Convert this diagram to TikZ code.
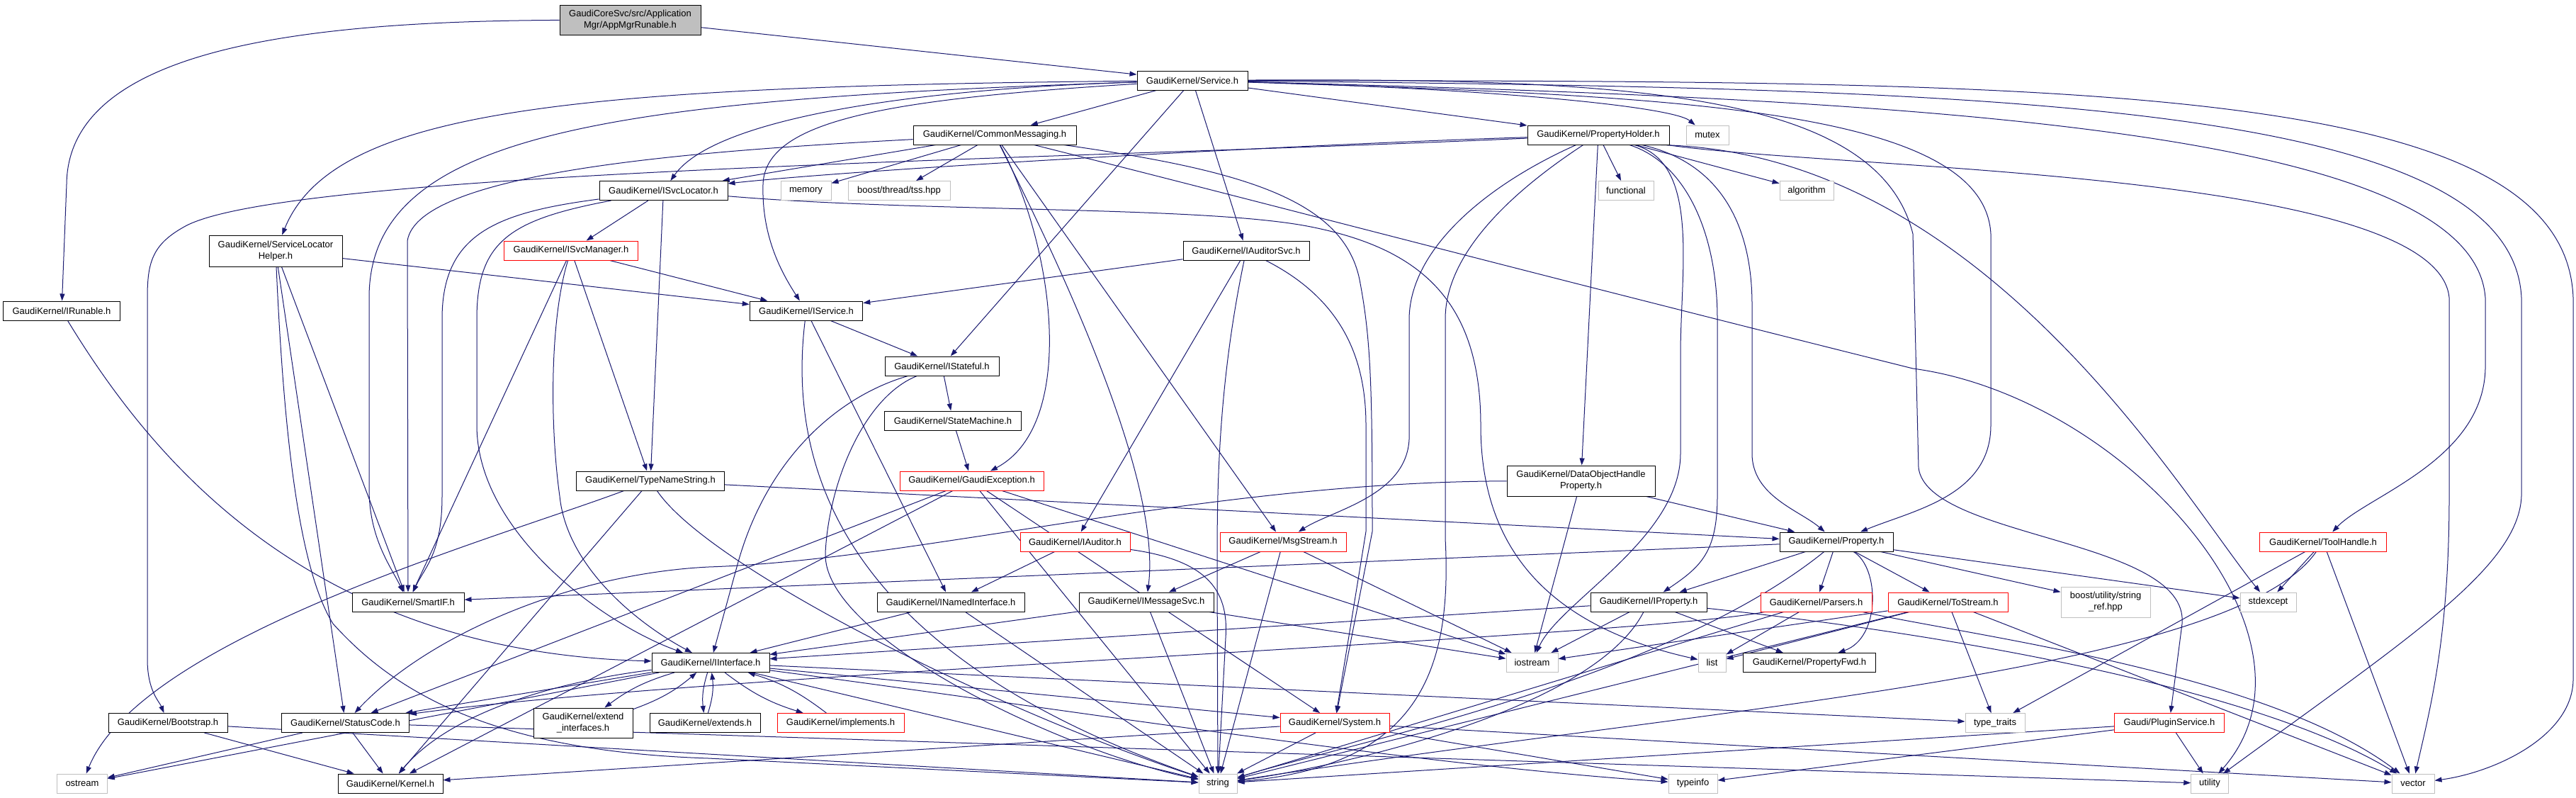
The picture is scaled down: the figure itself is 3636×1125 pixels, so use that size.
\documentclass[tikz,border=0pt]{standalone}
\usepackage{fontspec}
\setmainfont{Liberation Sans}
\usetikzlibrary{arrows.meta}
\definecolor{edgeblue}{HTML}{191970}
\definecolor{sysgray}{HTML}{BFBFBF}
\pgfdeclarelayer{edges}
\pgfsetlayers{edges,main}
\tikzset{
  hdr/.style={draw=black, fill=white, line width=1pt, inner sep=0pt, align=center,
    font=\fontsize{13}{16}\selectfont},
  trunc/.style={hdr, draw=red},
  sys/.style={hdr, draw=sysgray},
  bw/.style={minimum width=#1pt, minimum height=27pt},
  dep/.style={draw=edgeblue, line width=1pt, -{Triangle[length=10pt,width=7pt]}},
}
\begin{document}
\begin{tikzpicture}[x=1pt,y=-1pt]
    \useasboundingbox (0,0) rectangle (3636,1125);
    \node[hdr, fill=sysgray, bw=199, minimum height=42pt] (app) at (889.5,28) {GaudiCoreSvc/src/Application\\Mgr/AppMgrRunable.h};
    \node[hdr, bw=156] (svc) at (1683,113.5) {GaudiKernel/Service.h};
    \node[hdr, bw=164.5] (irun) at (87,438.5) {GaudiKernel/IRunable.h};
    \node[hdr, bw=230] (cmsg) at (1404,190.5) {GaudiKernel/CommonMessaging.h};
    \node[hdr, bw=200] (pholder) at (2256,190.5) {GaudiKernel/PropertyHolder.h};
    \node[sys, bw=60] (mutex) at (2410,190.5) {mutex};
    \node[hdr, bw=181] (isvcloc) at (936.5,269) {GaudiKernel/ISvcLocator.h};
    \node[sys, bw=71] (memory) at (1137.5,269) {memory};
    \node[sys, bw=144] (tss) at (1269,269) {boost/thread/tss.hpp};
    \node[sys, bw=78] (functional) at (2295,269) {functional};
    \node[sys, bw=76] (algorithm) at (2550,269) {algorithm};
    \node[hdr, bw=188, minimum height=44pt] (slh) at (389,354) {GaudiKernel/ServiceLocator\\Helper.h};
    \node[trunc, bw=188.5] (isvcmgr) at (806,353.5) {GaudiKernel/ISvcManager.h};
    \node[hdr, bw=178] (iaudsvc) at (1759,353.5) {GaudiKernel/IAuditorSvc.h};
    \node[hdr, bw=159.5] (iservice) at (1138,438.5) {GaudiKernel/IService.h};
    \node[hdr, bw=161] (istateful) at (1329.5,516.5) {GaudiKernel/IStateful.h};
    \node[hdr, bw=192.5] (statemachine) at (1345,593.5) {GaudiKernel/StateMachine.h};
    \node[hdr, bw=208.5] (tns) at (918,678.5) {GaudiKernel/TypeNameString.h};
    \node[trunc, bw=203] (gexc) at (1371.5,678.5) {GaudiKernel/GaudiException.h};
    \node[hdr, bw=209, minimum height=43pt] (dohp) at (2231.5,678.5) {GaudiKernel/DataObjectHandle\\Property.h};
    \node[trunc, bw=155] (iauditor) at (1517.5,764.5) {GaudiKernel/IAuditor.h};
    \node[trunc, bw=178] (msgstream) at (1811,764.5) {GaudiKernel/MsgStream.h};
    \node[hdr, bw=160] (property) at (2592,764.5) {GaudiKernel/Property.h};
    \node[trunc, bw=178.5] (toolhandle) at (3279,764.5) {GaudiKernel/ToolHandle.h};
    \node[hdr, bw=158] (smartif) at (576,849.5) {GaudiKernel/SmartIF.h};
    \node[hdr, bw=208] (inamed) at (1342,849.5) {GaudiKernel/INamedInterface.h};
    \node[hdr, bw=190] (imsgsvc) at (1618,849.5) {GaudiKernel/IMessageSvc.h};
    \node[hdr, bw=164] (iproperty) at (2327,849.5) {GaudiKernel/IProperty.h};
    \node[trunc, bw=157] (parsers) at (2563.5,849.5) {GaudiKernel/Parsers.h};
    \node[trunc, bw=169] (tostream) at (2749.5,849.5) {GaudiKernel/ToStream.h};
    \node[sys, bw=126, minimum height=43pt] (stringref) at (2972,849.5) {boost/utility/string\\\_ref.hpp};
    \node[sys, bw=79] (stdexcept) at (3201.5,849.5) {stdexcept};
    \node[hdr, bw=166] (iinterface) at (1003,935) {GaudiKernel/IInterface.h};
    \node[sys, bw=73] (iostream) at (2162.5,935) {iostream};
    \node[sys, bw=39] (list) at (2416.5,935) {list};
    \node[hdr, bw=186.5] (pfwd) at (2554,935) {GaudiKernel/PropertyFwd.h};
    \node[hdr, bw=168] (bootstrap) at (237,1020) {GaudiKernel/Bootstrap.h};
    \node[hdr, bw=180] (statuscode) at (487.5,1020) {GaudiKernel/StatusCode.h};
    \node[hdr, bw=140, minimum height=42pt] (extif) at (823,1020) {GaudiKernel/extend\\\_interfaces.h};
    \node[hdr, bw=156] (extends) at (995,1020) {GaudiKernel/extends.h};
    \node[trunc, bw=179] (implements) at (1186.5,1020) {GaudiKernel/implements.h};
    \node[trunc, bw=154] (system) at (1884,1020) {GaudiKernel/System.h};
    \node[sys, bw=84] (typetraits) at (2816,1020) {type\_traits};
    \node[trunc, bw=155.5] (plugin) at (3062,1020) {Gaudi/PluginService.h};
    \node[sys, bw=70.5] (ostream) at (116,1105.5) {ostream};
    \node[hdr, bw=148] (kernel) at (551,1105.5) {GaudiKernel/Kernel.h};
    \node[sys, bw=54] (string) at (1719,1105.5) {string};
    \node[sys, bw=69] (typeinfo) at (2389.5,1105.5) {typeinfo};
    \node[sys, bw=52.5] (utility) at (3119,1105.5) {utility};
    \node[sys, bw=60] (vector) at (3406,1105.5) {vector};
    \begin{pgfonlayer}{edges}
    \fill[white] (0,0) rectangle (3636,1125);
    \foreach \src/\dst in {app/svc, svc/cmsg, svc/pholder, svc/iaudsvc, svc/istateful,
        cmsg/isvcloc, cmsg/memory, cmsg/tss, cmsg/msgstream,
        pholder/functional, pholder/algorithm, pholder/dohp,
        isvcloc/isvcmgr, isvcloc/tns, slh/iservice, slh/statuscode, slh/smartif,
        isvcmgr/iservice, isvcmgr/tns, isvcmgr/smartif, iaudsvc/iservice, iaudsvc/iauditor,
        iservice/istateful, iservice/inamed, istateful/statemachine,
        statemachine/gexc, tns/property, tns/kernel,
        gexc/statuscode, gexc/kernel, gexc/system, gexc/iostream, gexc/string,
        dohp/property, dohp/iostream, iauditor/inamed,
        msgstream/imsgsvc, msgstream/string, msgstream/iostream,
        property/iproperty, property/parsers, property/tostream, property/stringref,
        property/stdexcept, property/smartif,
        toolhandle/stdexcept, toolhandle/typetraits, toolhandle/vector,
        inamed/iinterface, inamed/string, imsgsvc/iinterface, imsgsvc/string, imsgsvc/iostream,
        iproperty/iinterface, iproperty/pfwd, iproperty/iostream,
        parsers/list, parsers/string, tostream/iostream, tostream/list, tostream/typetraits,
        tostream/string, tostream/vector,
        iinterface/statuscode, iinterface/ostream, iinterface/system, iinterface/typetraits,
        iinterface/string, statuscode/ostream, statuscode/kernel, statuscode/utility,
        bootstrap/kernel, bootstrap/string, system/kernel, system/string, system/typeinfo,
        system/vector, plugin/string, plugin/typeinfo, plugin/utility}
        \draw[dep] (\src) -- (\dst);
    \draw[dep] (app) .. controls (420,30) and (96,70) .. (94,260) -- (irun);
    \draw[dep] (irun) .. controls (210,640) and (430,920) .. (iinterface);
    \draw[dep] (svc) .. controls (1300,125) and (1010,165) .. (isvcloc);
    \draw[dep] (svc) .. controls (1250,140) and (1080,170) .. (1077,260) .. controls (1075,330) and (1100,380) .. (iservice);
    \draw[dep] (svc) .. controls (800,122) and (470,155) .. (slh);
    \draw[dep] (svc) .. controls (850,140) and (521,190) .. (521,420) -- (521,690) .. controls (521,760) and (552,800) .. (smartif);
    \draw[dep] (svc) .. controls (2100,125) and (2360,150) .. (mutex);
    \draw[dep] (svc) .. controls (2350,135) and (2800,150) .. (2810,330) -- (2810,600) .. controls (2810,700) and (2700,720) .. (property);
    \draw[dep] (svc) .. controls (2300,110) and (2650,130) .. (2700,330) -- (2708,660) .. controls (2720,760) and (3090,760) .. (3080,880) -- (plugin);
    \draw[dep] (svc) .. controls (2700,140) and (3490,180) .. (3508,420) -- (3508,520) .. controls (3505,650) and (3340,700) .. (toolhandle);
    \draw[dep] (svc) .. controls (2800,125) and (3545,140) .. (3559,420) -- (3559,700) .. controls (3555,800) and (3400,900) .. (utility);
    \draw[dep] (svc) .. controls (2900,115) and (3620,110) .. (3632,420) -- (3632,960) .. controls (3630,1040) and (3520,1090) .. (vector);
    \draw[dep] (cmsg) .. controls (1000,212) and (590,240) .. (575,340) -- (smartif);
    \draw[dep] (cmsg) .. controls (1490,350) and (1520,600) .. (gexc);
    \draw[dep] (cmsg) .. controls (1500,380) and (1640,680) .. (imsgsvc);
    \draw[dep] (cmsg) .. controls (1750,240) and (1900,280) .. (1920,400) .. controls (1935,480) and (1937,550) .. (1937,750) -- (system);
    \draw[dep] (cmsg) .. controls (1800,290) and (2100,370) .. (2700,520) .. controls (3000,560) and (3300,900) .. (utility);
    \draw[dep] (iaudsvc) .. controls (1890,420) and (1928,500) .. (1928,600) -- (1928,750) -- (system);
    \draw[dep] (iaudsvc) .. controls (1718,550) and (1718,700) .. (1718,800) -- (string);
    \draw[dep] (isvcloc) .. controls (700,300) and (624,330) .. (624,450) -- (624,700) .. controls (624,780) and (600,800) .. (smartif);
    \draw[dep] (isvcloc) .. controls (720,310) and (673,340) .. (673,450) -- (673,600) .. controls (673,750) and (850,880) .. (iinterface);
    \draw[dep] (isvcloc) .. controls (1300,300) and (1700,290) .. (1850,320) .. controls (2000,350) and (2090,420) .. (2090,600) .. controls (2090,760) and (2170,880) .. (list);
    \draw[dep] (isvcmgr) .. controls (776,450) and (776,600) .. (790,700) .. controls (800,800) and (900,880) .. (iinterface);
    \draw[dep] (slh) .. controls (400,600) and (420,800) .. (470,880) .. controls (560,980) and (700,1060) .. (1000,1070) -- (string);
    \draw[dep] (pholder) .. controls (1800,205) and (1200,240) .. (isvcloc);
    \draw[dep] (pholder) .. controls (1500,225) and (400,240) .. (260,320) .. controls (215,345) and (208,370) .. (208,420) -- (208,930) .. controls (208,975) and (225,990) .. (bootstrap);
    \draw[dep] (pholder) .. controls (2100,260) and (1990,350) .. (1989,450) -- (1989,620) .. controls (1985,700) and (1880,720) .. (msgstream);
    \draw[dep] (pholder) .. controls (2150,260) and (2040,350) .. (2040,450) -- (2040,760) .. controls (2050,950) and (2000,1080) .. (string);
    \draw[dep] (pholder) .. controls (2400,230) and (2372,380) .. (2372,500) -- (2372,640) .. controls (2372,760) and (2200,850) .. (iostream);
    \draw[dep] (pholder) .. controls (2380,230) and (2424,330) .. (2424,450) -- (2424,700) .. controls (2424,780) and (2400,800) .. (iproperty);
    \draw[dep] (pholder) .. controls (2430,230) and (2473,320) .. (2473,430) -- (2473,640) .. controls (2473,700) and (2540,720) .. (property);
    \draw[dep] (pholder.-9) .. controls (2800,215) and (3080,700) .. (stdexcept);
    \draw[dep] (pholder) .. controls (2600,240) and (3440,240) .. (3457,420) -- (3457,700) .. controls (3457,900) and (3430,1000) .. (vector);
    \draw[dep] (iservice) .. controls (1100,750) and (1300,960) .. (string);
    \draw[dep] (istateful) .. controls (1180,560) and (1080,650) .. (1040,800) -- (iinterface);
    \draw[dep] (istateful) .. controls (1220,560) and (1170,680) .. (1165,780) .. controls (1160,900) and (1500,1060) .. (string);
    \draw[dep] (tns) .. controls (700,760) and (200,900) .. (ostream);
    \draw[dep] (tns) .. controls (1000,800) and (1400,1000) .. (string);
    \draw[dep] (dohp) .. controls (1700,680) and (1300,790) .. (1000,800) .. controls (800,810) and (600,900) .. (statuscode);
    \draw[dep] (iauditor) .. controls (1700,790) and (1735,830) .. (1730,900) -- (string);
    \draw[dep] (property) .. controls (2350,960) and (1900,1050) .. (string);
    \draw[dep] (property) .. controls (2653,800) and (2655,900) .. (pfwd);
    \draw[dep] (toolhandle) .. controls (3150,950) and (2400,1000) .. (string);
    \draw[dep] (parsers) .. controls (2800,900) and (3200,950) .. (vector);
    \draw[dep] (parsers) .. controls (2300,900) and (1000,950) .. (statuscode);
    \draw[dep] (iproperty) .. controls (2250,1000) and (1900,1080) .. (string);
    \draw[dep] (iproperty) .. controls (2800,900) and (3200,980) .. (vector);
    \draw[dep] (iinterface) .. controls (800,960) and (640,1000) .. (kernel);
    \draw[dep] (iinterface) .. controls (1500,1000) and (2000,1080) .. (typeinfo);
    \draw[dep] (iinterface) to[bend right=12] (extends);
    \draw[dep] (extends) to[bend right=12] (iinterface);
    \draw[dep] (iinterface) to[bend right=10] (implements);
    \draw[dep] (implements) to[bend right=10] (iinterface);
    \draw[dep] (iinterface) to[bend right=10] (extif);
    \draw[dep] (extif) to[bend right=10] (iinterface);
    \end{pgfonlayer}
\end{tikzpicture}
\end{document}
